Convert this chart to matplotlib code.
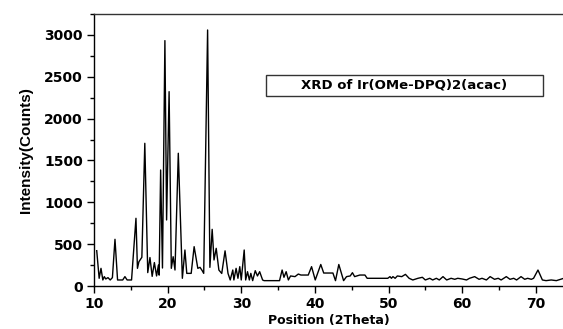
import matplotlib
matplotlib.use("Agg")
import matplotlib.pyplot as plt
from matplotlib.patches import Rectangle
from matplotlib.ticker import MultipleLocator

# Powder XRD pattern: 2-theta positions (deg) and intensities (counts)
two_theta = [
    10.37, 10.7, 10.95, 11.2, 11.4, 11.6, 11.9, 12.2, 12.5, 12.85,
    13.2, 13.9, 14.2, 14.5, 15.1, 15.7, 15.9, 16.1, 16.5, 16.9,
    17.3, 17.6, 17.9, 18.2, 18.5, 18.75, 18.85, 19.05, 19.3, 19.63,
    19.86, 20.2, 20.5, 20.75, 21.0, 21.45, 22.0, 22.35, 22.6, 23.2,
    23.6, 23.9, 24.1, 24.4, 24.7, 24.9, 25.43, 25.74, 26.05, 26.3,
    26.6, 26.96, 27.35, 27.8, 28.2, 28.5, 28.85, 29.0, 29.3, 29.55,
    29.8, 30.0, 30.4, 30.6, 30.85, 31.1, 31.3, 31.55, 31.9, 32.2,
    32.5, 32.9, 33.1, 35.2, 35.55, 35.8, 36.1, 36.4, 36.7, 37.3,
    37.75, 38.1, 39.1, 39.55, 40.05, 40.8, 41.2, 42.45, 42.8, 43.25,
    43.9, 44.3, 44.8, 45.1, 45.4, 46.1, 46.8, 47.1, 49.9, 50.2,
    50.4, 50.6, 50.9, 51.2, 51.8, 52.3, 52.8, 53.3, 54.0, 54.6,
    55.0, 55.6, 56.0, 56.5, 56.9, 57.4, 57.9, 58.5, 59.0, 59.4,
    60.0, 60.6, 61.0, 61.7, 62.3, 62.7, 63.3, 63.8, 64.4, 64.9,
    65.3, 66.0, 66.5, 67.0, 67.4, 68.0, 68.5, 68.9, 69.4, 69.7,
    70.3, 70.9, 71.4, 72.1, 72.8, 73.4, 73.8,
]
intensity = [
    422, 92, 211, 72, 112, 84, 100, 72, 100, 558,
    72, 72, 112, 72, 72, 809, 211, 290, 343, 1705,
    160, 340, 115, 280, 120, 250, 130, 1386, 215, 2932,
    789, 2322, 211, 350, 191, 1586, 92, 430, 151, 151,
    470, 311, 211, 223, 183, 151, 3059, 223, 677, 311,
    450, 191, 150, 420, 151, 72, 191, 72, 211, 92,
    231, 72, 430, 72, 171, 72, 151, 64, 183, 120,
    171, 72, 64, 64, 191, 104, 171, 72, 120, 112,
    143, 131, 131, 231, 72, 257, 155, 155, 64, 257,
    64, 112, 120, 159, 112, 131, 131, 92, 92, 112,
    92, 112, 92, 120, 112, 139, 92, 72, 92, 104,
    72, 92, 72, 92, 72, 112, 72, 92, 80, 92,
    84, 72, 92, 112, 80, 92, 72, 112, 80, 92,
    72, 112, 80, 92, 72, 112, 80, 92, 80, 92,
    191, 72, 64, 72, 64, 80, 92,
]

legend_label = "XRD of Ir(OMe-DPQ)2(acac)"
x_label = "Position (2Theta)"
y_label = "Intensity(Counts)"

wide = ["DejaVu Sans"]
narrow = ["Liberation Sans", "DejaVu Sans"]

fig = plt.figure(figsize=(5.63, 3.29), dpi=100)
W, H = 563, 329
ax = fig.add_axes([94 / W, 43 / H, 469 / W, 272 / H])

ax.plot(two_theta, intensity, color="black", lw=1.0)

ax.set_xlim(10, 73.7)
ax.set_ylim(0, 3250)

ax.xaxis.set_major_locator(MultipleLocator(10))
ax.xaxis.set_minor_locator(MultipleLocator(5))
ax.yaxis.set_major_locator(MultipleLocator(500))
ax.yaxis.set_minor_locator(MultipleLocator(250))

ax.spines["right"].set_visible(False)
for s in ("left", "bottom", "top"):
    ax.spines[s].set_linewidth(1.0)
    ax.spines[s].set_color("black")
ax.spines["top"].set_color("#333333")

ax.tick_params(which="both", direction="out", top=False, right=False, width=1.0)
ax.tick_params(which="major", length=5, pad=3, labelsize=10)
ax.tick_params(which="minor", length=3)
for lab in ax.get_xticklabels() + ax.get_yticklabels():
    lab.set_fontweight("bold")
    lab.set_family(wide)

ax.set_xlabel(x_label, fontsize=9, fontweight="bold", family=wide, labelpad=2)
ax.set_ylabel(y_label, fontsize=11, fontweight="bold", family=narrow, labelpad=8)

# Legend-style caption box
box = Rectangle((0.367, 0.699), 0.59, 0.077, transform=ax.transAxes,
                facecolor="white", edgecolor="#333333", lw=1.0, zorder=5)
ax.add_patch(box)
ax.text(0.662, 0.738, legend_label, transform=ax.transAxes, ha="center",
        va="center", fontsize=9.5, fontweight="bold", family=wide, zorder=6)

fig.savefig("out.png", dpi=100)
